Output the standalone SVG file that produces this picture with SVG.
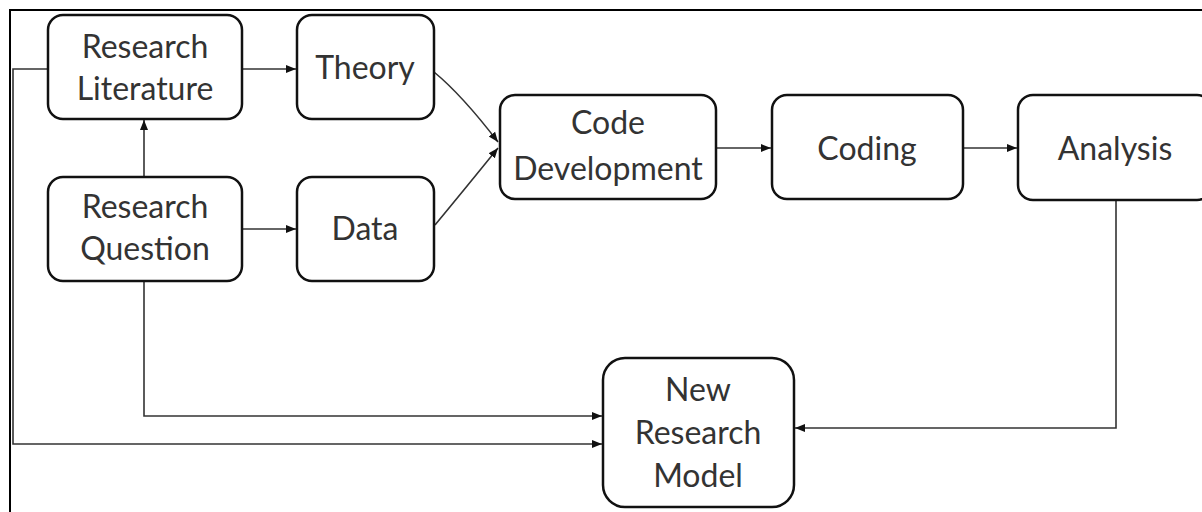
<svg xmlns="http://www.w3.org/2000/svg" width="1202" height="512" viewBox="0 0 1202 512">
<style>
.box{fill:#fff;stroke:#111;stroke-width:2.5}
.t{font-family:Lato,"Liberation Sans",sans-serif;font-size:32px;fill:#333;text-anchor:middle}
.c{fill:none;stroke:#333;stroke-width:1.6}
</style>
<defs>
<marker id="ah" viewBox="0 0 10 10" refX="10" refY="5" markerWidth="10" markerHeight="10" markerUnits="userSpaceOnUse" orient="auto">
<path d="M0,1 L10,5 L0,9 z" fill="#111"/>
</marker>
</defs>
<rect width="1202" height="512" fill="#fff"/>
<path d="M10,520 L10,10 L1210,10" fill="none" stroke="#000" stroke-width="2"/>
<g id="connectors">
<path class="c" d="M242,69 L296,69" marker-end="url(#ah)"/>
<path class="c" d="M144,177 L144,120" marker-end="url(#ah)"/>
<path class="c" d="M242,229 L296,229" marker-end="url(#ah)"/>
<path class="c" d="M434,72 Q462,95 498,142" marker-end="url(#ah)"/>
<path class="c" d="M435,225 Q464,190 498,148" marker-end="url(#ah)"/>
<path class="c" d="M716,148 L771,148" marker-end="url(#ah)"/>
<path class="c" d="M963,148 L1017,148" marker-end="url(#ah)"/>
<path class="c" d="M1116,200 L1116,428 L795,428" marker-end="url(#ah)"/>
<path class="c" d="M144,281 L144,416 L602,416" marker-end="url(#ah)"/>
<path class="c" d="M48,69 L13,69 L13,444 L602,444" marker-end="url(#ah)"/>
</g>
<g id="research-literature">
<rect class="box" x="48" y="15" width="194" height="104" rx="15"/>
<text class="t" x="145" y="58">Research</text>
<text class="t" x="145" y="100">Literature</text>
</g>
<g id="theory">
<rect class="box" x="297" y="15" width="137" height="104" rx="15"/>
<text class="t" x="365" y="79">Theory</text>
</g>
<g id="research-question">
<rect class="box" x="48" y="177" width="194" height="104" rx="15"/>
<text class="t" x="145" y="218">Research</text>
<text class="t" x="145" y="260">Question</text>
</g>
<g id="data">
<rect class="box" x="297" y="177" width="137" height="104" rx="15"/>
<text class="t" x="365" y="240">Data</text>
</g>
<g id="code-development">
<rect class="box" x="500" y="95" width="216" height="104" rx="15"/>
<text class="t" x="608" y="134">Code</text>
<text class="t" x="608" y="180">Development</text>
</g>
<g id="coding">
<rect class="box" x="772" y="95" width="191" height="104" rx="15"/>
<text class="t" x="867" y="160">Coding</text>
</g>
<g id="analysis">
<rect class="box" x="1018" y="95" width="194" height="105" rx="15"/>
<text class="t" x="1115" y="160">Analysis</text>
</g>
<g id="new-research-model">
<rect class="box" x="603" y="358" width="191" height="149" rx="22"/>
<text class="t" x="698" y="401">New</text>
<text class="t" x="698" y="444">Research</text>
<text class="t" x="698" y="487">Model</text>
</g>
</svg>
